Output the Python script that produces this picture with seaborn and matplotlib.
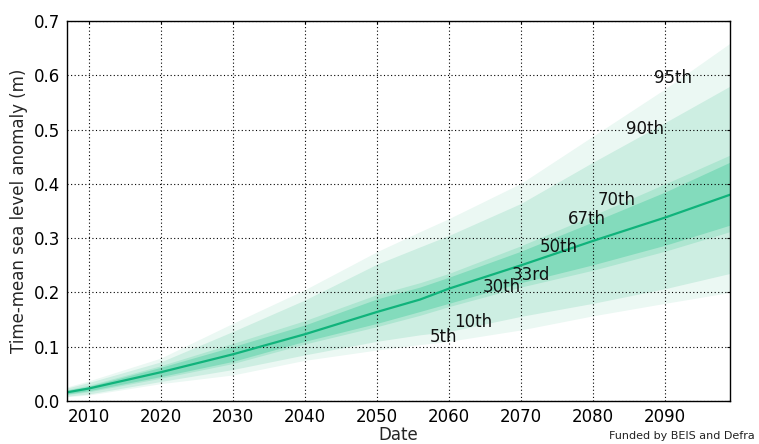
import numpy as np
import pandas as pd
import matplotlib
matplotlib.use("Agg")
import matplotlib.pyplot as plt
import seaborn as sns

# ---- data ----
years = [2007, 2010, 2020, 2030, 2040, 2050, 2056, 2060, 2070, 2080, 2090, 2099]
p05 = [0.008, 0.011, 0.032, 0.048, 0.075, 0.094, 0.104, 0.110, 0.131, 0.157, 0.180, 0.200]
p10 = [0.009, 0.013, 0.036, 0.058, 0.085, 0.110, 0.122, 0.128, 0.156, 0.180, 0.207, 0.235]
p30 = [0.012, 0.017, 0.042, 0.069, 0.105, 0.137, 0.158, 0.174, 0.210, 0.241, 0.276, 0.312]
p33 = [0.013, 0.019, 0.045, 0.073, 0.110, 0.143, 0.165, 0.180, 0.218, 0.251, 0.287, 0.324]
p50 = [0.016, 0.023, 0.053, 0.086, 0.123, 0.164, 0.187, 0.207, 0.250, 0.295, 0.338, 0.380]
p67 = [0.020, 0.027, 0.062, 0.100, 0.140, 0.188, 0.210, 0.228, 0.276, 0.330, 0.385, 0.440]
p70 = [0.021, 0.029, 0.065, 0.106, 0.148, 0.196, 0.218, 0.235, 0.286, 0.342, 0.400, 0.453]
p90 = [0.024, 0.034, 0.072, 0.128, 0.186, 0.252, 0.284, 0.305, 0.364, 0.440, 0.513, 0.580]
p95 = [0.026, 0.037, 0.079, 0.143, 0.205, 0.275, 0.312, 0.336, 0.401, 0.488, 0.575, 0.659]

label_names = ["5th", "10th", "30th", "33rd", "50th", "67th", "70th", "90th", "95th"]
label_years = [2059.3, 2063.3, 2067.3, 2071.3, 2075.3, 2079.2, 2083.2, 2087.2, 2091.1]

xticks = [2010, 2020, 2030, 2040, 2050, 2060, 2070, 2080, 2090]
yticks = [0.0, 0.1, 0.2, 0.3, 0.4, 0.5, 0.6, 0.7]

df = pd.DataFrame({"Date": years, "median": p50})

sns.set_style("white")
plt.rcParams["font.family"] = ["DejaVu Sans"]

fig = plt.figure(figsize=(7.59, 4.44), dpi=100)
ax = fig.add_axes([0.0883, 0.0968, 0.9618 - 0.0883, 0.9527 - 0.0968])

c_outer = "#ebf8f3"
c_second = "#cdeee2"
c_third = "#aee6d1"
c_inner = "#83dbbc"
c_line = "#10b37b"

ax.fill_between(years, p05, p95, color=c_outer, lw=0, zorder=0.5)
ax.fill_between(years, p10, p90, color=c_second, lw=0, zorder=0.6)
ax.fill_between(years, p30, p70, color=c_third, lw=0, zorder=0.7)
ax.fill_between(years, p33, p67, color=c_inner, lw=0, zorder=0.8)
sns.lineplot(data=df, x="Date", y="median", ax=ax, color=c_line, lw=1.6, zorder=2)

series = [p05, p10, p30, p33, p50, p67, p70, p90, p95]
for name, yr, s in zip(label_names, label_years, series):
    val = float(np.interp(yr, years, s))
    ax.text(yr, val, name, ha="center", va="baseline", fontsize=12,
            color="#111111", zorder=6)

ax.set_xlim(2007, 2099)
ax.set_ylim(0, 0.7)
ax.set_xticks(xticks)
ax.set_yticks(yticks)
ax.set_yticklabels([f"{v:.1f}" for v in yticks])
ax.set_axisbelow("line")
ax.grid(True, color="black", linestyle=(0, (1, 2.2)), linewidth=0.8)
for sp in ax.spines.values():
    sp.set_color("black")
    sp.set_linewidth(1.0)
    sp.set_zorder(7)
ax.tick_params(axis="both", which="both", direction="in", length=2,
               labelsize=12, top=True, right=True, colors="black", pad=5)
ax.set_xlabel("Date", fontsize=12, labelpad=0)
ax.set_ylabel("Time-mean sea level anomaly (m)", fontsize=12, labelpad=4)

fig.text(0.995, 0.006, "Funded by BEIS and Defra", ha="right", va="bottom",
         fontsize=8, color="#222222")

fig.savefig("out.png", dpi=100)
